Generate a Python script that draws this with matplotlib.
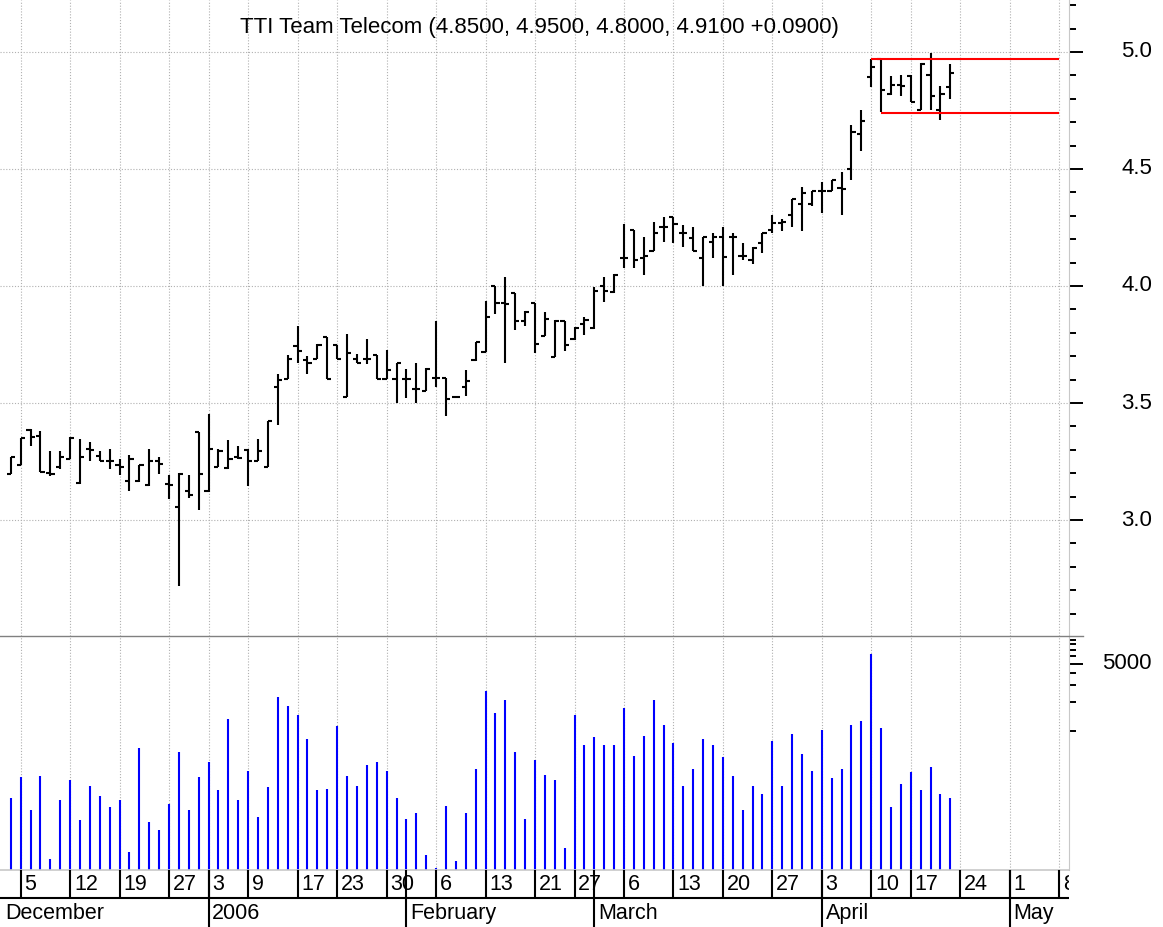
import numpy as np
import pandas as pd
import matplotlib
matplotlib.use('Agg')
from matplotlib import pyplot as plt
from matplotlib.lines import Line2D

plt.rcParams['font.family'] = ['Liberation Sans', 'DejaVu Sans']

# trading calendar (Dec 2 2005 .. May 8 2006), bars run Dec 2 .. Apr 21
holidays = ['2005-12-26', '2006-01-02', '2006-01-16', '2006-02-20', '2006-04-14']
days = pd.bdate_range('2005-12-02', '2006-05-08')
days = days[~days.isin(pd.to_datetime(holidays))]

open_ = [3.195, 3.236, 3.385, 3.359, 3.201, 3.227, 3.259, 3.160, 3.305, 3.273,
         3.254, 3.233, 3.168, 3.165, 3.151, 3.254, 3.154, 3.055, 3.125, 3.374,
         3.125, 3.227, 3.223, 3.270, 3.299, 3.254, 3.227, 3.570, 3.604, 3.742,
         3.682, 3.686, 3.782, 3.749, 3.524, 3.686, 3.686, 3.703, 3.601, 3.604,
         3.604, 3.559, 3.552, 3.605, 3.605, 3.524, 3.570, 3.683, 3.717, 3.999,
         3.926, 3.970, 3.852, 3.926, 3.787, 3.698, 3.852, 3.772, 3.838, 3.819,
         4.000, 3.976, 4.118, 4.239, 4.120, 4.150, 4.254, 4.293, 4.228, 4.204,
         4.118, 4.190, 4.208, 4.208, 4.128, 4.111, 4.182, 4.239, 4.270, 4.303,
         4.349, 4.349, 4.406, 4.408, 4.420, 4.500, 4.648, 4.892, 4.968, 4.821,
         4.859, 4.897, 4.754, 4.900, 4.754, 4.850]
high = [3.270, 3.349, 3.388, 3.381, 3.295, 3.295, 3.355, 3.345, 3.335, 3.297,
        3.302, 3.259, 3.277, 3.233, 3.302, 3.270, 3.194, 3.201, 3.191, 3.374,
        3.453, 3.302, 3.341, 3.316, 3.305, 3.348, 3.421, 3.625, 3.703, 3.830,
        3.700, 3.754, 3.782, 3.749, 3.796, 3.711, 3.773, 3.703, 3.728, 3.672,
        3.646, 3.672, 3.651, 3.852, 3.605, 3.524, 3.641, 3.759, 3.937, 3.999,
        4.040, 3.970, 3.894, 3.926, 3.890, 3.855, 3.852, 3.826, 3.869, 3.997,
        4.040, 4.050, 4.265, 4.239, 4.208, 4.275, 4.293, 4.293, 4.261, 4.254,
        4.208, 4.225, 4.254, 4.225, 4.182, 4.168, 4.228, 4.303, 4.285, 4.372,
        4.422, 4.406, 4.446, 4.453, 4.486, 4.690, 4.754, 4.968, 4.968, 4.897,
        4.901, 4.901, 4.951, 4.996, 4.855, 4.950]
low = [3.195, 3.236, 3.316, 3.204, 3.190, 3.218, 3.259, 3.155, 3.254, 3.254,
       3.220, 3.194, 3.125, 3.162, 3.147, 3.197, 3.091, 2.717, 3.093, 3.043,
       3.118, 3.227, 3.218, 3.261, 3.147, 3.251, 3.227, 3.404, 3.601, 3.672,
       3.623, 3.686, 3.601, 3.686, 3.524, 3.672, 3.665, 3.601, 3.601, 3.500,
       3.521, 3.500, 3.552, 3.570, 3.446, 3.524, 3.531, 3.679, 3.717, 3.880,
       3.670, 3.812, 3.827, 3.715, 3.786, 3.698, 3.724, 3.769, 3.791, 3.815,
       3.933, 3.969, 4.075, 4.075, 4.047, 4.150, 4.190, 4.182, 4.168, 4.150,
       4.000, 4.118, 4.000, 4.047, 4.111, 4.094, 4.142, 4.225, 4.236, 4.254,
       4.236, 4.342, 4.313, 4.408, 4.303, 4.451, 4.577, 4.849, 4.742, 4.817,
       4.813, 4.785, 4.751, 4.751, 4.711, 4.800]
close = [3.270, 3.349, 3.355, 3.204, 3.197, 3.270, 3.349, 3.270, 3.300, 3.254,
         3.254, 3.227, 3.259, 3.233, 3.254, 3.240, 3.149, 3.197, 3.108, 3.197,
         3.302, 3.297, 3.261, 3.266, 3.254, 3.297, 3.421, 3.598, 3.686, 3.721,
         3.672, 3.749, 3.601, 3.686, 3.714, 3.672, 3.686, 3.601, 3.641, 3.672,
         3.604, 3.559, 3.646, 3.605, 3.517, 3.524, 3.594, 3.759, 3.866, 3.928,
         3.921, 3.852, 3.890, 3.752, 3.858, 3.852, 3.748, 3.819, 3.855, 3.979,
         3.980, 4.047, 4.118, 4.111, 4.128, 4.228, 4.254, 4.264, 4.225, 4.150,
         4.208, 4.208, 4.125, 4.208, 4.128, 4.161, 4.225, 4.271, 4.275, 4.372,
         4.396, 4.406, 4.406, 4.453, 4.415, 4.658, 4.704, 4.934, 4.838, 4.859,
         4.855, 4.785, 4.948, 4.813, 4.820, 4.910]
volume = [200, 330, 150, 340, 46, 190, 310, 117, 270, 210,
          160, 190, 55, 660, 112, 93, 175, 600, 150, 330,
          480, 240, 1330, 190, 385, 128, 260, 2260, 1820, 1460,
          820, 240, 250, 1120, 340, 270, 440, 480, 385, 200,
          122, 140, 51, 37, 166, 44, 140, 400, 2590, 1530,
          2090, 600, 122, 500, 350, 310, 60, 1460, 710, 860,
          710, 710, 1740, 550, 890, 2090, 1160, 750, 270, 400,
          820, 710, 530, 340, 150, 270, 220, 790, 270, 940,
          575, 385, 1020, 320, 400, 1160, 1280, 6300, 1080, 160,
          280, 370, 240, 420, 220, 200]

# red channel lines: (price, first bar date)
channel = [(4.97, '2006-04-10'), (4.74, '2006-04-11')]
title = 'TTI Team Telecom (4.8500, 4.9500, 4.8000, 4.9100 +0.0900)'

W, H = 1163, 927
fig = plt.figure(figsize=(W / 100, H / 100), dpi=100)
ax = fig.add_axes([0, 1 - 636 / H, 1069 / W, 636 / H])
axv = fig.add_axes([0, 57 / H, 1069 / W, 234 / H])
axd = fig.add_axes([0, 0, 1069 / W, 57 / H])

xlim = (-1.093, 107.0)
x = np.arange(len(close))

# week and month starts
wk = [k for k in range(1, len(days)) if days[k].weekday() < days[k - 1].weekday()]
mo = [k for k in range(1, len(days)) if days[k].month != days[k - 1].month]

grid_kw = dict(color='#b0b0b0', lw=0.8, ls=(0, (1, 1.6)))

# price panel
ax.vlines(x, low, high, color='black', lw=1.5)
ax.hlines(open_, x - 0.42, x, color='black', lw=1.5)
ax.hlines(close, x, x + 0.42, color='black', lw=1.5)
end = len(days) - 1
for lvl, d in channel:
    k = days.get_loc(pd.Timestamp(d))
    ax.hlines(lvl, k, end, color='red', lw=1.5)

ax.set_xlim(xlim)
ax.set_ylim(2.5043, 5.2222)
ax.set_xticks(wk)
ax.set_yticks([3.0, 3.5, 4.0, 4.5, 5.0])
ax.set_yticks([v / 10 for v in range(26, 53) if v % 5], minor=True)
ax.yaxis.tick_right()
ax.tick_params(axis='x', length=0, labelbottom=False)
ax.tick_params(axis='y', which='major', length=10, width=1.4, labelright=False)
ax.tick_params(axis='y', which='minor', length=5, width=1.4)
ax.grid(True, **grid_kw)
for s in ['top', 'left', 'bottom']:
    ax.spines[s].set_visible(False)
ax.spines['right'].set_color('#c8c8c8')
for v in [3.0, 3.5, 4.0, 4.5, 5.0]:
    ax.text(1152 / 1069, v, '%.1f' % v, transform=ax.get_yaxis_transform(),
            ha='right', va='center', fontsize=16, clip_on=False)

# volume panel
vb = 35.5
axv.vlines(x, vb, volume, color='#0000ff', lw=1.5)
axv.set_yscale('log')
axv.set_xlim(xlim)
axv.set_ylim(vb, 9790)
axv.set_xticks(wk)
axv.set_yticks([5000])
axv.set_yticks([1000, 2000, 3000, 4000, 6000, 7000, 8000, 9000], minor=True)
axv.yaxis.tick_right()
axv.tick_params(axis='x', length=0, labelbottom=False)
axv.tick_params(axis='y', which='major', length=10, width=1.4, labelright=False)
axv.tick_params(axis='y', which='minor', length=5, width=1.4, labelright=False)
axv.grid(True, axis='x', **grid_kw)
for s in ['top', 'left']:
    axv.spines[s].set_visible(False)
axv.spines['right'].set_color('#c8c8c8')
axv.spines['bottom'].set_color('#c8c8c8')
axv.spines['bottom'].set_linewidth(1.2)
axv.text(1152 / 1069, 5000, '5000', transform=axv.get_yaxis_transform(),
         ha='right', va='center', fontsize=16, clip_on=False)

# separator between panels
fig.add_artist(Line2D([0, 1083 / W], [1 - 636 / H] * 2, transform=fig.transFigure,
                      color='#808080', lw=1))

# date rows
axd.set_xlim(xlim)
axd.set_ylim(0, 57)
axd.axis('off')
axd.vlines(wk, 29, 57, color='black', lw=1.5)
axd.vlines(mo, 0, 57, color='black', lw=1.5)
axd.axhline(29, color='black', lw=1.5)
off = 0.38
for k in wk:
    axd.text(k + off, 42.7, str(days[k].day), ha='left', va='center',
             fontsize=15.5, clip_on=True)
axd.text(xlim[0] + 0.55, 13.7, 'December', ha='left', va='center', fontsize=15.5)
for k in mo:
    name = str(days[k].year) if days[k].month == 1 else days[k].strftime('%B')
    axd.text(k + off, 13.7, name, ha='left', va='center', fontsize=15.5, clip_on=True)

fig.text(539 / W, 1 - 27 / H, title, ha='center', va='center', fontsize=16)

plt.savefig('out.png', dpi=100)
